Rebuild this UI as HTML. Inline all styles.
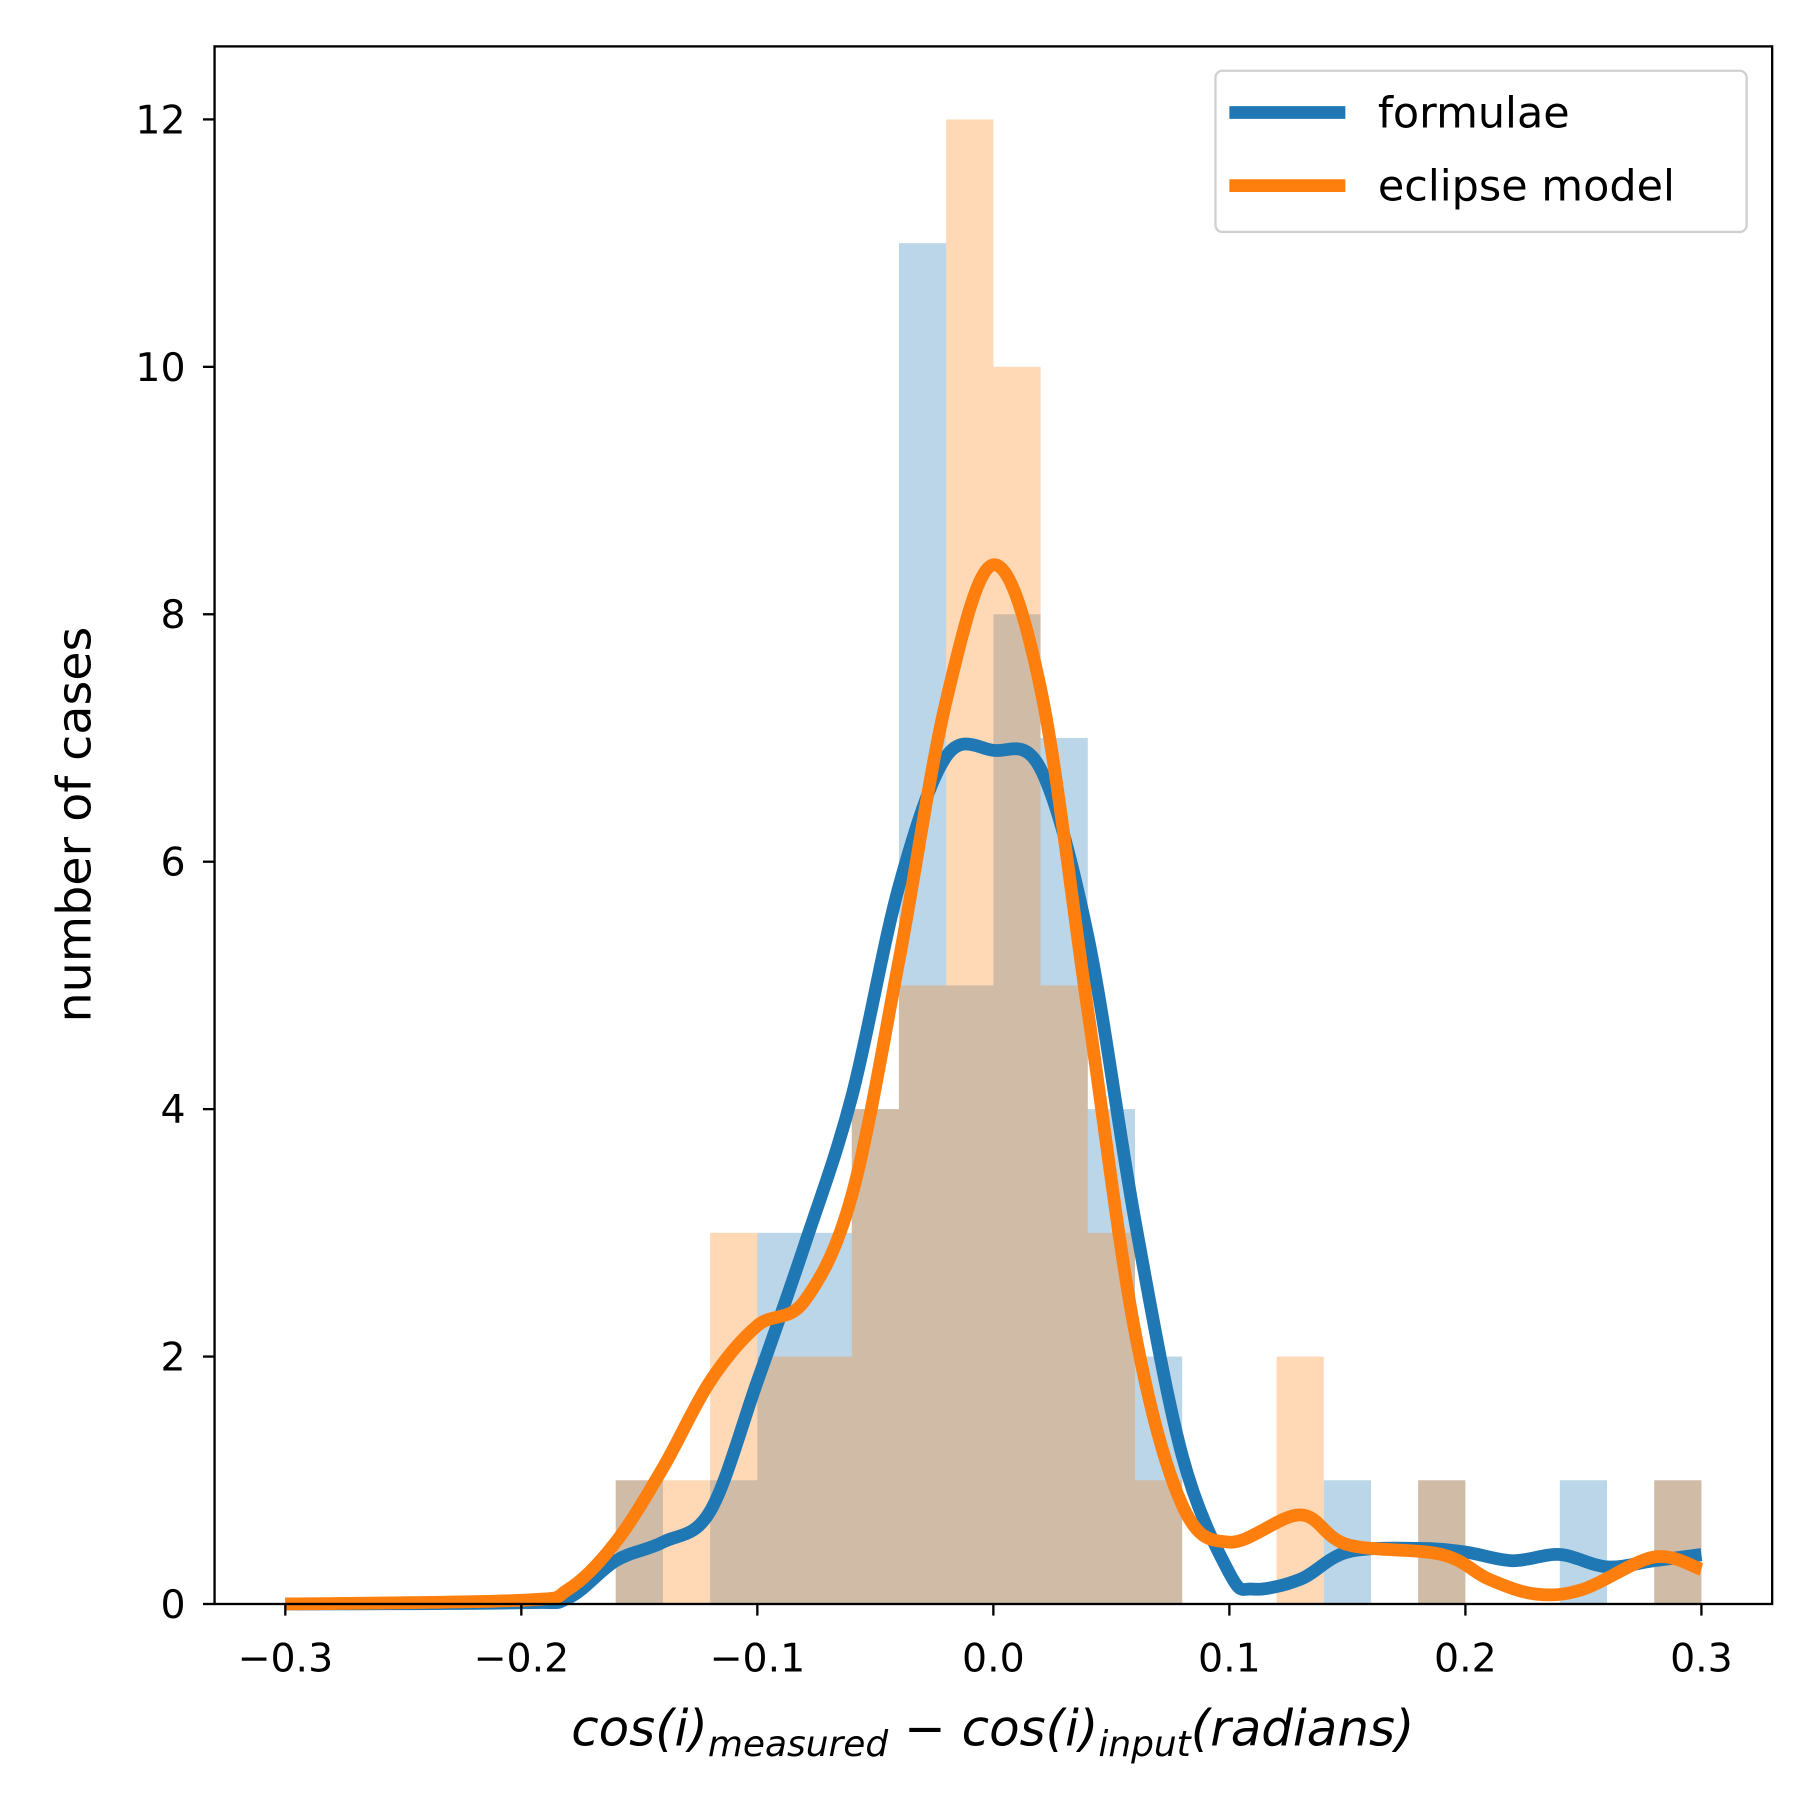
<!DOCTYPE html>
<html><head><meta charset="utf-8"><style>html,body{margin:0;padding:0;background:#fff}svg{display:block}</style></head>
<body>
<svg id="chart" width="1800" height="1800" viewBox="0 0 1552 1552" xmlns="http://www.w3.org/2000/svg" font-family="'DejaVu Sans','Liberation Sans',sans-serif">
<rect width="1552" height="1552" fill="#fff"/>
<g id="hist"></g>
<g id="curves"></g>
<rect x="185" y="40" width="1343" height="1343" fill="none" stroke="#000" stroke-width="2"/>
<g id="axes"></g>
<text x="856" y="1505" font-size="43" text-anchor="middle" font-style="italic">cos(i)<tspan font-size="31" dy="9">measured</tspan><tspan dy="-9"> − cos(i)</tspan><tspan font-size="31" dy="9">input</tspan><tspan dy="-9">(radians)</tspan></text>
<text transform="translate(78,711) rotate(-90)" font-size="41" text-anchor="middle">number of cases</text>
<g>
<rect x="1048" y="61" width="458" height="139" rx="6" fill="#fff" stroke="#ccc" stroke-width="2" opacity="0.9"/>
<line x1="1060" y1="97" x2="1160" y2="97" stroke="#1f77b4" stroke-width="11"/>
<text x="1188" y="110" font-size="37">formulae</text>
<line x1="1060" y1="160" x2="1160" y2="160" stroke="#ff7f0e" stroke-width="11"/>
<text x="1188" y="173" font-size="37">eclipse model</text>
</g>
</svg>
<script>
var binStarts=[-0.16,-0.14,-0.12,-0.10,-0.08,-0.06,-0.04,-0.02,0.00,0.02,0.04,0.06,0.08,0.10,0.12,0.14,0.16,0.18,0.20,0.22,0.24,0.26,0.28];
var formulaeCounts=[1,0,1,3,3,4,11,5,8,7,4,2,0,0,0,1,0,1,0,0,1,0,1];
var eclipseCounts=[1,1,3,2,2,4,5,12,10,5,3,1,0,0,2,0,0,1,0,0,0,0,1];
var binWidth=0.02;
var formulaeKdeX=[-0.3,-0.2,-0.18,-0.16,-0.14,-0.12,-0.1,-0.08,-0.06,-0.04,-0.02,0,0.02,0.04,0.06,0.08,0.1,0.11,0.13,0.15,0.18,0.2,0.22,0.24,0.26,0.28,0.3];
var formulaeKdeY=[0,0.01,0.05,0.35,0.5,0.75,1.8,2.9,4.1,5.8,6.85,6.9,6.75,5.4,3.1,1.2,0.25,0.12,0.2,0.42,0.45,0.42,0.35,0.4,0.3,0.35,0.4];
var eclipseKdeX=[-0.3,-0.2,-0.18,-0.16,-0.14,-0.12,-0.1,-0.08,-0.06,-0.04,-0.02,0,0.02,0.04,0.06,0.08,0.1,0.13,0.15,0.19,0.21,0.23,0.25,0.28,0.3];
var eclipseKdeY=[0,0.03,0.12,0.5,1.1,1.8,2.25,2.45,3.3,5.2,7.3,8.4,7.4,4.8,2.2,0.8,0.5,0.72,0.48,0.4,0.2,0.08,0.12,0.38,0.28];
var xTicks=[-0.3,-0.2,-0.1,0.0,0.1,0.2,0.3];
var xTickLabels=["−0.3","−0.2","−0.1","0.0","0.1","0.2","0.3"];
var yTicks=[0,2,4,6,8,10,12];

var NS="http://www.w3.org/2000/svg";
function xs(v){return 856.5+v*2035;}
function ys(v){return 1383-v*106.67;}
function mk(tag,attrs,parent){var e=document.createElementNS(NS,tag);for(var k in attrs)e.setAttribute(k,attrs[k]);parent.appendChild(e);return e;}
var hist=document.getElementById('hist');
function drawHist(counts,color,name){
  counts.forEach(function(c,i){ if(!c) return;
    var r=mk('rect',{x:xs(binStarts[i]),y:ys(c),width:xs(binStarts[i]+binWidth)-xs(binStarts[i]),height:ys(0)-ys(c),fill:color,'fill-opacity':0.3},hist);
    
    
  });
}
drawHist(formulaeCounts,'#1f77b4','formulae-bar');
drawHist(eclipseCounts,'#ff7f0e','eclipse-bar');
var curves=document.getElementById('curves');
function smoothPath(X,Y){
  var P=X.map(function(x,i){return [xs(x),ys(Y[i])];});
  var d='M'+P[0][0]+','+P[0][1];
  for(var i=0;i<P.length-1;i++){
    var p0=P[Math.max(0,i-1)],p1=P[i],p2=P[i+1],p3=P[Math.min(P.length-1,i+2)];
    var a=[p1[0]+(p2[0]-p0[0])/6,p1[1]+(p2[1]-p0[1])/6];
    var b=[p2[0]-(p3[0]-p1[0])/6,p2[1]-(p3[1]-p1[1])/6];
    d+=' C'+a[0]+','+a[1]+' '+b[0]+','+b[1]+' '+p2[0]+','+p2[1];
  }
  return d;
}
var lineF=mk('path',{d:smoothPath(formulaeKdeX,formulaeKdeY),fill:'none',stroke:'#1f77b4','stroke-width':11,'stroke-linejoin':'round'},curves);


var lineE=mk('path',{d:smoothPath(eclipseKdeX,eclipseKdeY),fill:'none',stroke:'#ff7f0e','stroke-width':11,'stroke-linejoin':'round'},curves);


var axes=document.getElementById('axes');
xTicks.forEach(function(t,i){
  var l=mk('line',{x1:xs(t),x2:xs(t),y1:1383,y2:1393,stroke:'#000','stroke-width':2},axes);
  
  
  var tx=mk('text',{x:xs(t),y:1441,'font-size':34,'text-anchor':'middle'},axes);
  tx.textContent=xTickLabels[i];
  
  
});
yTicks.forEach(function(t){
  var l=mk('line',{x1:175,x2:185,y1:ys(t),y2:ys(t),stroke:'#000','stroke-width':2},axes);
  
  
  var tx=mk('text',{x:160,y:ys(t)+12,'font-size':34,'text-anchor':'end'},axes);
  tx.textContent=String(t);
  
  
});
</script>
</body></html>
